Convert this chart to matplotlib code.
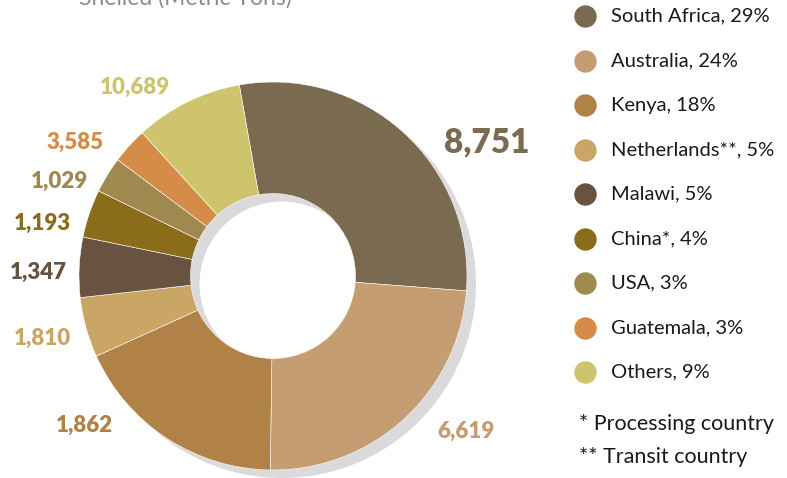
import matplotlib.pyplot as plt

countries = ["South Africa", "Australia", "Kenya", "Netherlands**", "Malawi",
             "China*", "USA", "Guatemala", "Others"]
shares = [29, 24, 18, 5, 5, 4, 3, 3, 9]
tonnes = ["8,751", "6,619", "1,862", "1,810", "1,347", "1,193", "1,029", "3,585", "10,689"]
colors = ["#7a6a50", "#c49d72", "#b08247", "#c9a665", "#675340",
          "#8a6c1a", "#a0894f", "#d48c48", "#cec46d"]
notes = ["* Processing country", "** Transit country"]

# label anchor points, in units of the outer radius
label_xy = [(1.10, 0.69), (0.995, -0.80), (-0.97, -0.77), (-1.19, -0.32), (-1.21, 0.02),
            (-1.19, 0.27), (-1.10, 0.49), (-1.02, 0.69), (-0.71, 0.97)]

plt.rcParams["font.family"] = ["Lato", "DejaVu Sans"]

W, H = 787, 478
cx, cy, R = 273, 202, 194  # pie centre and radius in pixels (from bottom)

fig = plt.figure(figsize=(W / 100, H / 100), dpi=100)
ax = fig.add_axes([0, 0, 1, 1])

start = 100
# shadow ring
ax.pie([1], radius=1, center=(9 / R, -8 / R), colors=["#dadada"],
       wedgeprops=dict(width=0.575, linewidth=0), frame=True)
ax.pie(shares, radius=1, colors=colors, startangle=start, counterclock=False,
       wedgeprops=dict(width=0.575, edgecolor="white", linewidth=0.4), frame=True)
ax.set_xlim(-cx / R, (W - cx) / R)
ax.set_ylim(-cy / R, (H - cy) / R)
ax.set_aspect("equal")
ax.axis("off")

for i, (txt, (lx, ly)) in enumerate(zip(tonnes, label_xy)):
    ax.text(lx, ly, txt, color=colors[i], fontweight="heavy",
            fontsize=24 if i == 0 else 16, ha="center", va="center")

fig.text(185 / W, (H - 5) / H, "Shelled (Metric Tons)", color="#8c8c8c",
         fontsize=16.5, ha="center", va="baseline")

# legend
y0, dy = H - 16, 44.5
for i, name in enumerate(countries):
    y = (y0 - i * dy) / H
    ax.scatter([585 / W], [y], s=260, color=colors[i], transform=fig.transFigure,
               clip_on=False, linewidths=0)
    fig.text(611 / W, y, f"{name}, {shares[i]}%", fontsize=14.5, color="#1a1a1a",
             ha="left", va="center")
for j, note in enumerate(notes):
    fig.text(579 / W, (H - 424 - j * 33) / H, note, fontsize=15.5, color="#1a1a1a",
             ha="left", va="center")

fig.savefig("out.png", dpi=100)
